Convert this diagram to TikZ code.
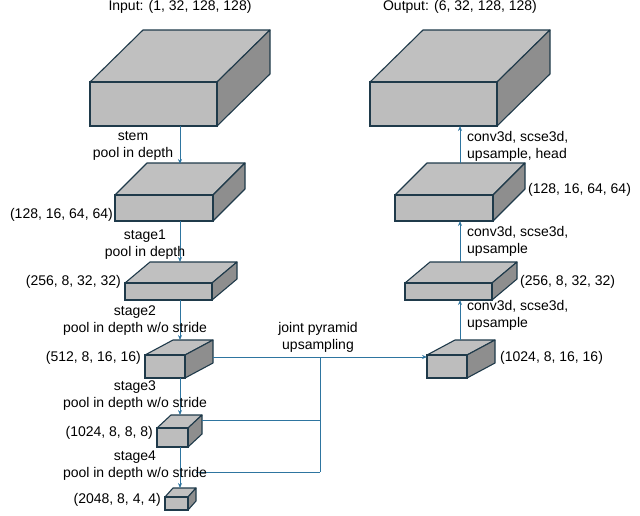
\documentclass[tikz,border=0pt]{standalone}
\usepackage{fontspec}
\setmainfont{Liberation Sans}
\usetikzlibrary{arrows.meta}
\definecolor{edge}{HTML}{1F3A4A}
\definecolor{arr}{HTML}{2E75A0}
\definecolor{ftop}{HTML}{C0C0C0}
\definecolor{fside}{HTML}{8E8E8E}
\definecolor{ffront}{HTML}{BDBDBD}
\tikzset{lab/.style={font=\fontsize{14}{17}\selectfont,inner sep=0pt,align=center},
 con/.style={arr,line width=0.9pt},
 ar/.style={con,-{Stealth[length=5pt,width=4pt]}}}
\newcommand\mycube[7]{%
 \fill[ftop,draw=edge,line width=1.1pt,line join=round] (#2,#3)--++(#6,#7)--(#4+#6,#3+#7)--(#4,#3)--cycle;
 \fill[fside,draw=edge,line width=1.1pt,line join=round] (#4,#3)--(#4+#6,#3+#7)--(#4+#6,#5+#7)--(#4,#5)--cycle;
 \node[draw=edge,fill=ffront,line width=1.1pt,inner sep=0pt,minimum width={(#4-#2)*1pt},minimum height={(#5-#3)*1pt}] (#1) at ({(#2+#4)/2},{(#3+#5)/2}) {};
}
\begin{document}
\begin{tikzpicture}[x=1pt,y=-1pt]
\useasboundingbox (0,0) rectangle (640,515);
\mycube{A}{90}{82}{217}{126}{53}{-52}
\mycube{B}{115}{195}{213}{221}{32}{-32}
\mycube{C}{125}{283}{212}{300}{25}{-21}
\mycube{D}{145}{355}{185}{378}{28}{-15}
\mycube{E}{157}{428}{188}{447}{14}{-13}
\mycube{F}{165}{497}{188}{510}{8}{-9}
\mycube{R1}{370}{82}{497}{126}{53}{-52}
\mycube{R2}{395}{195}{493}{221}{32}{-32}
\mycube{R3}{405}{283}{492}{300}{25}{-21}
\mycube{R4}{427}{355}{467}{378}{28}{-15}
\draw[ar] (180,126) -- (180,164);
\draw[ar] (180,221) -- (180,262);
\draw[ar] (180,300) -- (180,340);
\draw[ar] (180,378) -- (180,415);
\draw[ar] (180,447) -- (180,488);
\draw[ar] (460,340) -- (460,300);
\draw[ar] (460,262) -- (460,221);
\draw[ar] (460,163) -- (460,126);
\coordinate (j) at (320,357);
\draw[ar] (213,357) -- (427,357);
\draw[con] (j) -- (320,472);
\draw[con] (202,420) -- (320,420);
\draw[con] (196,472) -- (320,472);
\node[lab] at (180,7) {Input: (1, 32, 128, 128)};
\node[lab] at (460,7) {Output: (6, 32, 128, 128)};
\node[lab] at (318,337) {joint pyramid\\upsampling};
\node[lab] at (133,146) {stem\\pool in depth};
\node[lab,anchor=east] at (113,215) {(128, 16, 64, 64)};
\node[lab] at (145,245) {stage1\\pool in depth};
\node[lab,anchor=east] at (121,282) {(256, 8, 32, 32)};
\node[lab] at (135,321) {stage2\\pool in depth w/o stride};
\node[lab,anchor=east] at (141,358) {(512, 8, 16, 16)};
\node[lab] at (135,396) {stage3\\pool in depth w/o stride};
\node[lab,anchor=east] at (153,433) {(1024, 8, 8, 8)};
\node[lab] at (135,466) {stage4\\pool in depth w/o stride};
\node[lab,anchor=east] at (161,500) {(2048, 8, 4, 4)};
\node[lab,align=left,anchor=west] at (467,146) {conv3d, scse3d,\\upsample, head};
\node[lab,anchor=west] at (528,190) {(128, 16, 64, 64)};
\node[lab,align=left,anchor=west] at (467,241) {conv3d, scse3d,\\upsample};
\node[lab,anchor=west] at (520,282) {(256, 8, 32, 32)};
\node[lab,align=left,anchor=west] at (467,315) {conv3d, scse3d,\\upsample};
\node[lab,anchor=west] at (500,358) {(1024, 8, 16, 16)};
\end{tikzpicture}
\end{document}
